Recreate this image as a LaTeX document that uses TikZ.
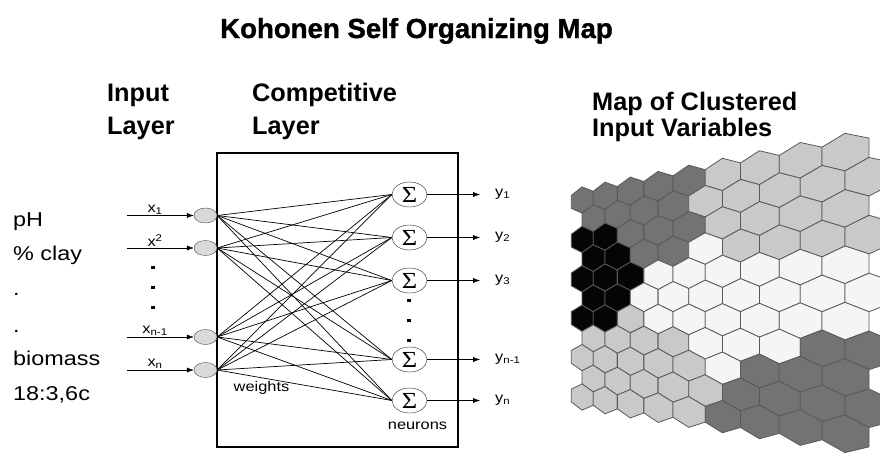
\documentclass[tikz,border=0pt]{standalone}
\usepackage{fontspec}
\setmainfont{Liberation Sans}
\newfontfamily\lblfont[FakeStretch=1.17]{Liberation Sans}
\newfontfamily\titlefont[FakeBold=1.2]{Liberation Sans Bold}
\newfontfamily\sigfont[FakeStretch=1.15]{Liberation Serif}
\usetikzlibrary{arrows.meta,shapes.geometric}

\definecolor{hexd}{gray}{0.45}
\definecolor{hexl}{gray}{0.79}
\definecolor{hexw}{gray}{0.96}
\definecolor{hexb}{gray}{0.02}

\tikzset{
  inp/.style={ellipse, draw=black!70, fill=black!15, minimum width=23pt, minimum height=15pt, inner sep=0pt},
  neuron/.style={ellipse, draw=black!85, minimum width=35pt, minimum height=25pt, inner sep=0pt, font=\sigfont\fontsize{23}{23}\selectfont},
  lbl/.style={font=\lblfont\fontsize{20}{20}\selectfont, anchor=base west, inner sep=0pt},
  head/.style={font=\bfseries\fontsize{25.3}{25.3}\selectfont, anchor=base west, inner sep=0pt},
  sub/.style={font=\lblfont\fontsize{14}{14}\selectfont, inner sep=1pt},
  arr/.style={-{Latex[length=7pt,width=5pt]}},
  wire/.style={line width=0.7pt},
  dot/.style={fill, minimum width=4pt, minimum height=3pt, inner sep=0pt},
  hexline/.style={draw=black!65, line width=0.8pt},
}

\begin{document}
\begin{tikzpicture}[x=1pt,y=-1pt]
  \useasboundingbox (0,0) rectangle (880,458);

  \node[font=\titlefont\fontsize{27.6}{27.6}\selectfont, anchor=base west, inner sep=0pt] (title) at (220,38) {Kohonen Self Organizing Map};

  \node[head] (h1) at (107,101.5) {Input};
  \node[head] (h2) at (107,134) {Layer};
  \node[head] (h3) at (252,101.5) {Competitive};
  \node[head] (h4) at (252,134) {Layer};
  \node[head] (h5) at (592,110) {Map of Clustered};
  \node[head] (h6) at (592,136.5) {Input Variables};

  \node[lbl] (v1) at (13,226) {pH};
  \node[lbl] (v2) at (13,260) {\% clay};
  \node[lbl] (v3) at (13,295) {.};
  \node[lbl] (v4) at (13,332) {.};
  \node[lbl] (v5) at (13,365.5) {biomass};
  \node[lbl] (v6) at (13,400) {18:3,6c};

  \node[draw, line width=2pt, minimum width=241pt, minimum height=294pt, inner sep=0pt] (comp) at (337.5,300) {};

  \node[inp] (x1) at (205.5,215.5) {};
  \node[inp] (x2) at (205.5,248) {};
  \node[inp] (x3) at (205.5,337) {};
  \node[inp] (x4) at (205.5,370) {};

  \coordinate (a1) at (127,215.5);
  \coordinate (a2) at (127,248);
  \coordinate (a3) at (127,337);
  \coordinate (a4) at (127,370);

  \draw[arr] (a1) -- (x1) node[pos=0.42, above, sub] {x\textsubscript{1}};
  \draw[arr] (a2) -- (x2) node[pos=0.42, above, sub] {x\textsuperscript{2}};
  \draw[arr] (a3) -- (x3) node[pos=0.42, above, sub] {x\textsubscript{n-1}};
  \draw[arr] (a4) -- (x4) node[pos=0.42, above, sub] {x\textsubscript{n}};

  \node[dot] (d1) at (153,267) {};
  \node[dot] (d2) at (153,287) {};
  \node[dot] (d3) at (153,307) {};

  \node[neuron] (s1) at (409.5,194.5) {Σ};
  \node[neuron] (s2) at (409.5,237.5) {Σ};
  \node[neuron] (s3) at (409.5,280.5) {Σ};
  \node[neuron] (s4) at (409.5,359.5) {Σ};
  \node[neuron] (s5) at (409.5,400.5) {Σ};

  \node[dot] (d4) at (409,300) {};
  \node[dot] (d5) at (409,320) {};
  \node[dot] (d6) at (409,340) {};

  \foreach \i in {1,...,4}
    \foreach \j in {1,...,5}
      \draw[wire] (x\i.east) -- (s\j.west);

  \node[sub] (w) at (261.5,388) {weights};
  \node[sub] (n) at (417.5,426) {neurons};

  \foreach \j/\t in {1/{y\textsubscript{1}}, 2/{y\textsubscript{2}}, 3/{y\textsubscript{3}}, 4/{y\textsubscript{n-1}}, 5/{y\textsubscript{n}}} {
    \coordinate (o\j) at (480,0 |- s\j);
    \draw[arr] (s\j) -- (o\j);
    \node[sub, anchor=west] (y\j) at ([xshift=14pt]o\j) {\t};
  }

  \begin{scope}
    \clip (560,100) rectangle (880,458);
    \foreach \r/\row in {0/{d,d,d,d,d,l,l,l,l}, 1/{d,d,d,d,l,l,l,l,l},
        2/{b,b,d,d,d,l,l,l,l}, 3/{b,b,d,d,w,l,l,l,l}, 4/{b,b,b,w,w,w,w,w,w},
        5/{b,b,w,w,w,w,w,w,w}, 6/{b,b,l,w,w,w,w,w,w}, 7/{l,l,l,l,w,w,w,d,d},
        8/{l,l,l,l,l,w,d,d,d}, 9/{l,l,l,l,l,d,d,d,d}, 10/{l,l,l,l,l,d,d,d,d}} {
      \foreach \f [count=\c from 0] in \row {
        \pgfmathsetmacro\u{\c+0.5*mod(\r,2)}
        \foreach \k/\du/\dv in {1/0/-0.6667, 2/0.5/-0.3333, 3/0.5/0.3333, 4/0/0.6667, 5/-0.5/0.3333, 6/-0.5/-0.3333} {
          \pgfmathsetmacro\mx{582+230*(exp(0.09531*(\u+\du))-1)}
          \pgfmathsetmacro\my{200-0.182*(\mx-582)+(\r+\dv)*(19.7+0.0322*(\mx-582))}
          \coordinate (p\k) at (\mx,\my);
        }
        \draw[hexline, fill=hex\f] (p1) -- (p2) -- (p3) -- (p4) -- (p5) -- (p6) -- cycle;
      }
    }
  \end{scope}
\end{tikzpicture}
\end{document}
